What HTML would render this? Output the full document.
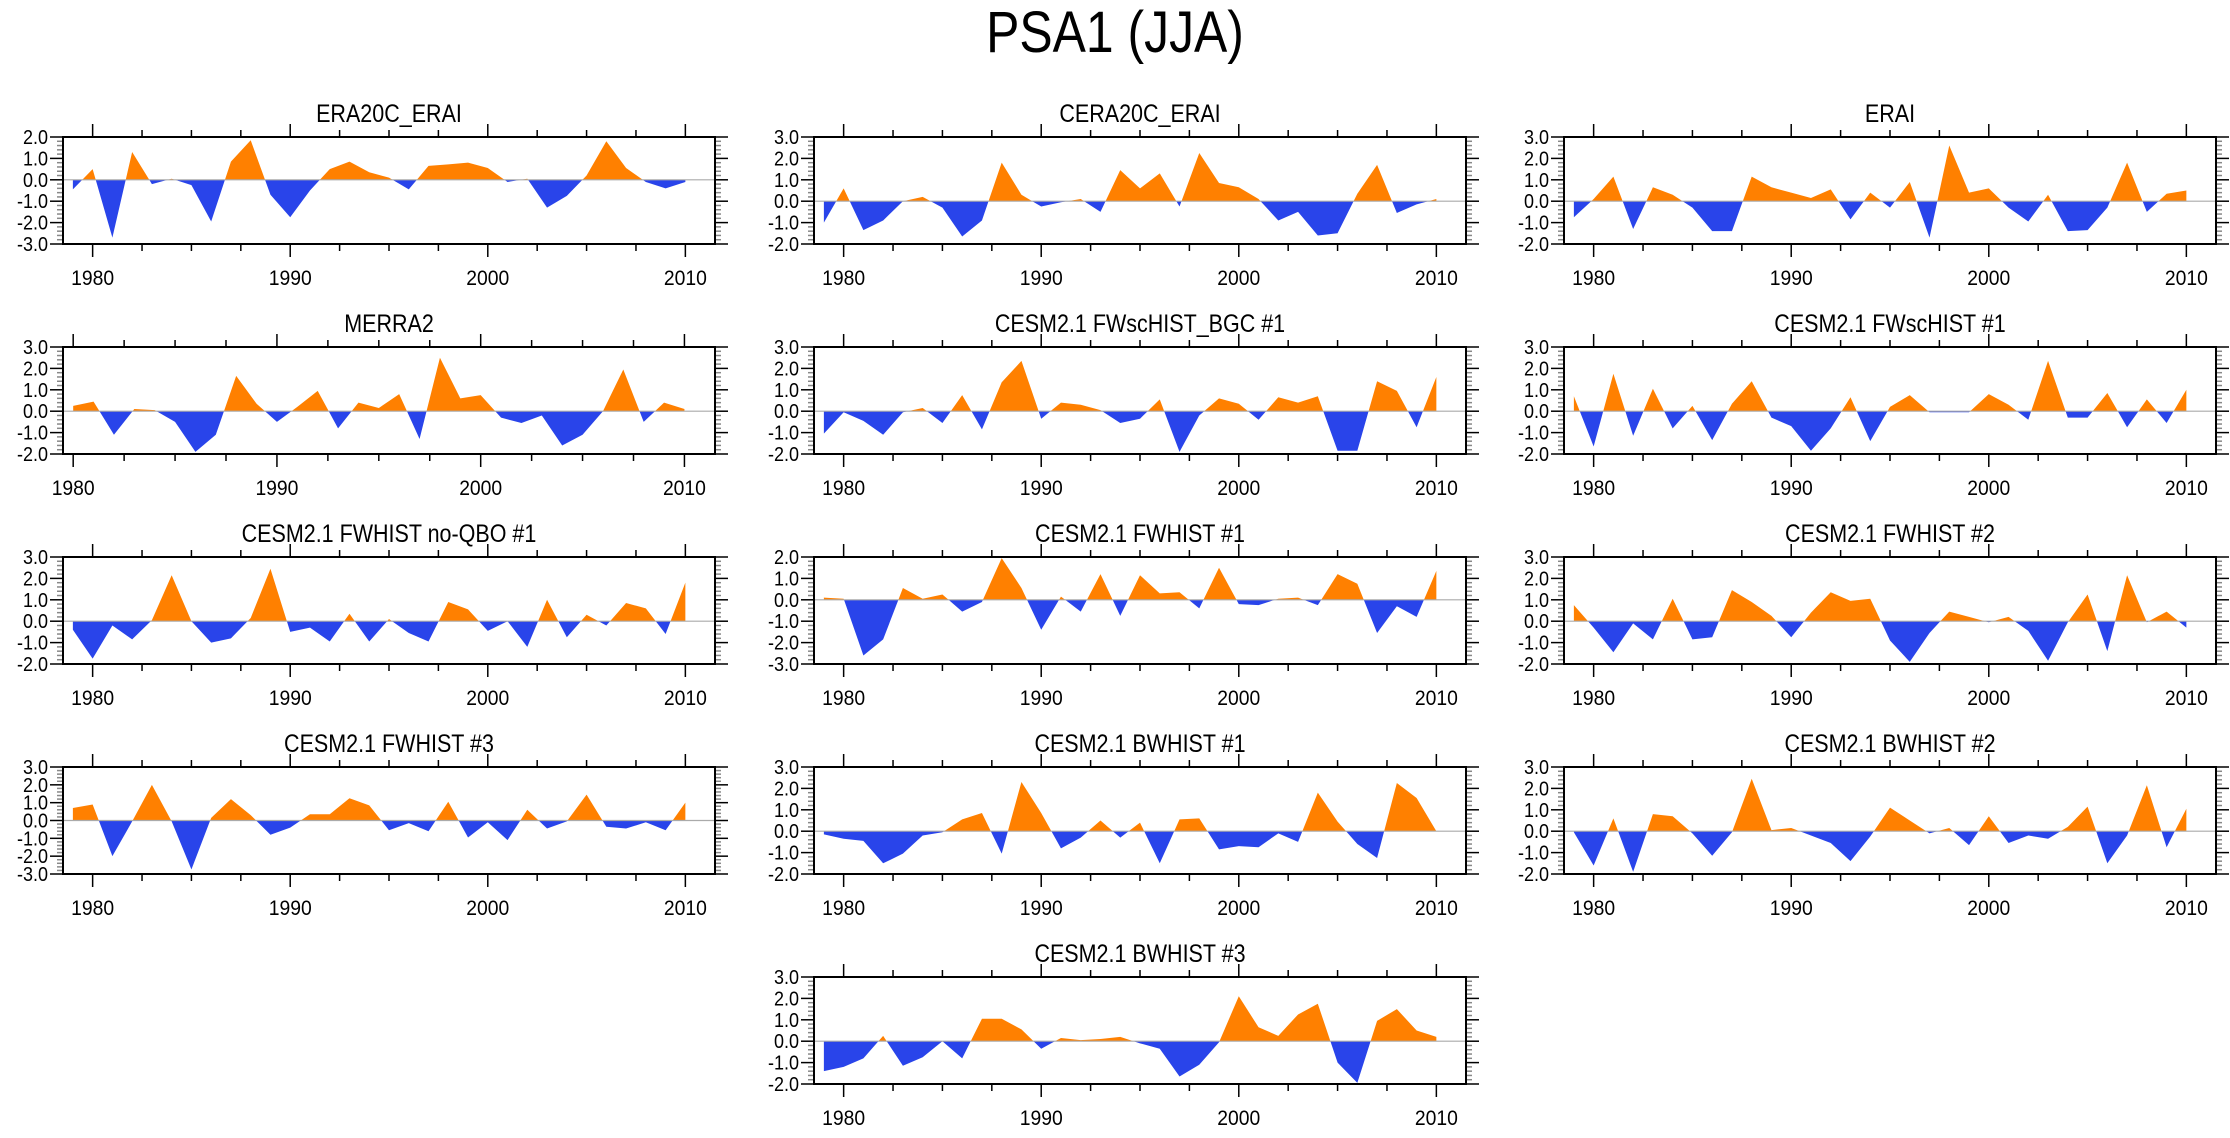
<!DOCTYPE html>
<html><head><meta charset="utf-8">
<style>
html,body{margin:0;padding:0;background:#fff;}
svg text{font-family:"Liberation Sans",Arial,sans-serif;fill:#000;}
</style></head>
<body>
<svg id="chart" width="2230" height="1133" viewBox="0 0 2230 1133" xmlns="http://www.w3.org/2000/svg">
<rect width="2230" height="1133" fill="#fff"/>
<text id="mainTitle" x="1115" y="52" font-size="58" text-anchor="middle">PSA1 (JJA)</text>
<g id="panels"></g>
</svg>
<script>
const titles = ["ERA20C_ERAI","CERA20C_ERAI","ERAI","MERRA2","CESM2.1 FWscHIST_BGC #1","CESM2.1 FWscHIST #1","CESM2.1 FWHIST no-QBO #1","CESM2.1 FWHIST #1","CESM2.1 FWHIST #2","CESM2.1 FWHIST #3","CESM2.1 BWHIST #1","CESM2.1 BWHIST #2","CESM2.1 BWHIST #3"];
const startYears = [1979,1979,1979,1980,1979,1979,1979,1979,1979,1979,1979,1979,1979];
const yMins = [-3,-2,-2,-2,-2,-2,-2,-3,-2,-3,-2,-2,-2];
const yMaxs = [2,3,3,3,3,3,3,2,3,3,3,3,3];
const xTickLabels = [1980,1990,2000,2010];
const sERA20C = [-0.45,0.5,-2.7,1.3,-0.2,0.05,-0.25,-1.95,0.85,1.85,-0.7,-1.75,-0.5,0.5,0.85,0.35,0.1,-0.45,0.65,0.72,0.8,0.55,-0.1,0.05,-1.3,-0.75,0.2,1.8,0.55,-0.1,-0.4,-0.1];
const sCERA20C = [-1.0,0.6,-1.35,-0.9,0.0,0.2,-0.3,-1.65,-0.9,1.8,0.3,-0.25,-0.05,0.1,-0.5,1.45,0.6,1.3,-0.25,2.25,0.85,0.65,0.1,-0.9,-0.5,-1.6,-1.5,0.35,1.7,-0.55,-0.15,0.1];
const sERAI = [-0.75,0.1,1.15,-1.3,0.65,0.3,-0.3,-1.4,-1.4,1.15,0.65,0.4,0.15,0.55,-0.85,0.4,-0.3,0.9,-1.7,2.6,0.4,0.6,-0.3,-0.95,0.3,-1.4,-1.35,-0.3,1.8,-0.5,0.35,0.5];
const sMERRA2 = [0.25,0.45,-1.1,0.1,0.05,-0.5,-1.9,-1.1,1.65,0.35,-0.5,0.2,0.95,-0.8,0.4,0.15,0.8,-1.3,2.5,0.6,0.75,-0.3,-0.55,-0.2,-1.6,-1.1,0.0,1.95,-0.5,0.4,0.1];
const sBGC = [-1.05,-0.05,-0.45,-1.1,-0.05,0.15,-0.55,0.75,-0.85,1.35,2.35,-0.35,0.4,0.3,0.05,-0.55,-0.35,0.55,-1.9,-0.2,0.6,0.35,-0.4,0.65,0.4,0.7,-1.85,-1.85,1.4,0.95,-0.75,1.6];
const sFWsc1 = [0.7,-1.65,1.75,-1.15,1.05,-0.8,0.25,-1.35,0.35,1.4,-0.3,-0.7,-1.85,-0.8,0.65,-1.4,0.2,0.75,-0.05,-0.05,-0.05,0.8,0.3,-0.4,2.35,-0.3,-0.3,0.85,-0.75,0.55,-0.55,1.0];
const sNoQBO = [-0.4,-1.75,-0.2,-0.85,0.05,2.15,0.0,-1.0,-0.8,0.15,2.45,-0.5,-0.3,-0.95,0.35,-0.95,0.1,-0.55,-0.95,0.9,0.55,-0.45,0.0,-1.2,1.0,-0.75,0.3,-0.2,0.85,0.6,-0.6,1.8];
const sFW1 = [0.1,0.05,-2.6,-1.85,0.55,0.05,0.25,-0.55,-0.1,1.95,0.55,-1.4,0.15,-0.55,1.2,-0.75,1.15,0.3,0.35,-0.4,1.5,-0.2,-0.25,0.05,0.1,-0.25,1.2,0.75,-1.55,-0.3,-0.8,1.35];
const sFW2 = [0.75,-0.3,-1.45,-0.1,-0.85,1.05,-0.85,-0.75,1.45,0.9,0.25,-0.75,0.4,1.35,0.95,1.05,-0.9,-1.9,-0.55,0.45,0.2,-0.05,0.2,-0.45,-1.85,-0.05,1.25,-1.4,2.15,-0.05,0.45,-0.3];
const sFW3 = [0.7,0.9,-2.0,-0.05,2.0,-0.05,-2.75,0.15,1.2,0.3,-0.8,-0.4,0.35,0.35,1.25,0.85,-0.55,-0.15,-0.6,1.05,-0.95,-0.1,-1.1,0.6,-0.45,-0.05,1.45,-0.35,-0.45,-0.1,-0.55,1.0];
const sBW1 = [-0.15,-0.35,-0.45,-1.5,-1.05,-0.2,-0.05,0.55,0.85,-1.05,2.3,0.85,-0.8,-0.3,0.5,-0.3,0.4,-1.5,0.55,0.6,-0.85,-0.7,-0.75,-0.1,-0.5,1.8,0.45,-0.6,-1.25,2.25,1.55,0.0];
const sBW2 = [-0.05,-1.6,0.6,-1.9,0.8,0.7,-0.1,-1.15,-0.05,2.45,0.05,0.15,-0.2,-0.55,-1.4,-0.25,1.1,0.5,-0.1,0.15,-0.65,0.7,-0.55,-0.2,-0.35,0.2,1.15,-1.5,-0.2,2.15,-0.75,1.05];
const sBW3 = [-1.4,-1.2,-0.8,0.25,-1.15,-0.75,0.0,-0.8,1.05,1.05,0.55,-0.35,0.15,0.05,0.1,0.2,-0.1,-0.35,-1.65,-1.1,-0.05,2.1,0.65,0.25,1.25,1.75,-1.0,-1.95,0.95,1.5,0.5,0.2];
const series = [sERA20C,sCERA20C,sERAI,sMERRA2,sBGC,sFWsc1,sNoQBO,sFW1,sFW2,sFW3,sBW1,sBW2,sBW3];

const NS = "http://www.w3.org/2000/svg";
const colX = [63, 814, 1564];
const rowY = [137, 347, 557, 767, 977];
const PW = 652, PH = 107;
const layout = [[0,0],[1,0],[2,0],[0,1],[1,1],[2,1],[0,2],[1,2],[2,2],[0,3],[1,3],[2,3],[1,4]];
const root = document.getElementById('panels');
function mk(tag, attrs, parent){ const e=document.createElementNS(NS,tag); for(const k in attrs) e.setAttribute(k,attrs[k]); parent.appendChild(e); return e; }
function condense(el, f){ const w = el.getComputedTextLength(); el.setAttribute('textLength', (w*f).toFixed(1)); el.setAttribute('lengthAdjust', 'spacingAndGlyphs'); }
condense(document.getElementById('mainTitle'), 0.86);

series.forEach((vals, i) => {
  const L = colX[layout[i][0]], T = rowY[layout[i][1]];
  const y0 = startYears[i], yEnd = y0 + vals.length - 1;
  const xmin = y0 - 0.5, xmax = yEnd + 1.5;
  const ymin = yMins[i], ymax = yMaxs[i];
  const xs = v => L + (v - xmin) / (xmax - xmin) * PW;
  const ys = v => T + (ymax - v) / (ymax - ymin) * PH;
  const g = mk('g', {}, root);
  
  
  const t = mk('text', {x: L + PW/2, y: T - 15, 'font-size': 25, 'text-anchor': 'middle'}, g);
  
  
  t.textContent = titles[i];
  condense(t, 0.86);
  const cidA = 'ca'+i, cidB = 'cb'+i;
  const cpA = mk('clipPath', {id: cidA}, g);
  mk('rect', {x: L, y: T, width: PW, height: ys(0) - T}, cpA);
  const cpB = mk('clipPath', {id: cidB}, g);
  mk('rect', {x: L, y: ys(0), width: PW, height: T + PH - ys(0)}, cpB);
  let pts = vals.map((v, k) => xs(y0 + k).toFixed(2) + ',' + ys(v).toFixed(2));
  const poly = xs(y0).toFixed(2) + ',' + ys(0) + ' ' + pts.join(' ') + ' ' + xs(yEnd).toFixed(2) + ',' + ys(0);
  const pa = mk('polygon', {points: poly, fill: '#ff8000', 'clip-path': 'url(#'+cidA+')'}, g);
  
  
  const pb = mk('polygon', {points: poly, fill: '#2944ea', 'clip-path': 'url(#'+cidB+')'}, g);
  
  
  const zl = mk('line', {x1: L, x2: L + PW, y1: ys(0), y2: ys(0), stroke: '#aaa', 'stroke-width': 1.2}, g);
  
  
  for (let v = ymin; v <= ymax + 1e-6; v += 0.2) {
    const vv = Math.round(v*10)/10, yy = ys(vv);
    const major = Math.abs(vv - Math.round(vv)) < 1e-6;
    const len = major ? 13 : 6;
    const col = major ? '#000' : '#888';
    mk('line', {x1: L - len, x2: L, y1: yy, y2: yy, stroke: col, 'stroke-width': 1.5}, g);
    mk('line', {x1: L + PW, x2: L + PW + len, y1: yy, y2: yy, stroke: col, 'stroke-width': 1.5}, g);
    if (major) {
      const lt = mk('text', {x: L - 15, y: yy + 7, 'font-size': 20, 'text-anchor': 'end'}, g);
      
      
      lt.textContent = vv.toFixed(1);
      condense(lt, 0.9);
    }
  }
  for (let yr = 1980; yr <= 2010; yr += 2.5) {
    const xx = xs(yr);
    const major = yr % 10 === 0;
    const len = major ? 13 : 7;
    mk('line', {x1: xx, x2: xx, y1: T - len, y2: T, stroke: '#000', 'stroke-width': 1.5}, g);
    mk('line', {x1: xx, x2: xx, y1: T + PH, y2: T + PH + len, stroke: '#000', 'stroke-width': 1.5}, g);
  }
  xTickLabels.forEach(lab => {
    const xt = mk('text', {x: xs(lab), y: T + PH + 41, 'font-size': 21, 'text-anchor': 'middle'}, g);
    
    
    xt.textContent = lab;
    condense(xt, 0.92);
  });
  const fr = mk('rect', {x: L, y: T, width: PW, height: PH, fill: 'none', stroke: '#000', 'stroke-width': 2}, g);
  
  
});
</script>
</body></html>
